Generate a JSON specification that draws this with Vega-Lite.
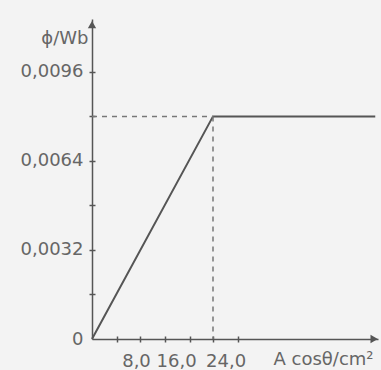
{
  "$schema": "https://vega.github.io/schema/vega-lite/v6.json",
  "autosize": {"type": "none"},
  "padding": {"left": 92, "top": 19, "right": 3, "bottom": 31},
  "width": 286,
  "height": 320,
  "background": "#f3f3f3",
  "config": {
    "view": {"stroke": null},
    "axis": {"labelFont": "DejaVu Sans", "titleFont": "DejaVu Sans", "labelColor": "#666666", "titleColor": "#666666", "labelFontSize": 18, "titleFontSize": 18, "titleFontWeight": "normal", "domainColor": "#555555", "tickColor": "#555555", "grid": false}
  },
  "datasets": {
    "curve": [
      {"area": 0, "flux": 0},
      {"area": 22, "flux": 0.008},
      {"area": 51.5, "flux": 0.008}
    ],
    "knee": [
      {"area": 22, "flux": 0.008, "base": 0}
    ],
    "arrows": [
      {"area": 0, "flux": 0.0113, "dir": "up"},
      {"area": 51.3, "flux": 0, "dir": "right"}
    ]
  },
  "layer": [
    {
      "data": {"name": "curve"},
      "mark": {"type": "line", "color": "#555555", "strokeWidth": 2},
      "encoding": {
        "x": {"field": "area", "type": "quantitative", "scale": {"domain": [0, 52], "nice": false, "zero": false},
          "axis": {"orient": "bottom", "values": [8, 15.3, 24.3], "ticks": false, "tickSize": 0, "labelPadding": 13, "domainWidth": 1.5,
            "labelExpr": "datum.value < 10 ? '8,0' : datum.value < 20 ? '16,0' : '24,0'",
            "title": "A cosθ/cm²", "titleX": 231, "titleY": 20, "titleAlign": "center", "titleBaseline": "middle"}},
        "y": {"field": "flux", "type": "quantitative", "scale": {"domain": [0, 0.0115], "nice": false, "zero": false},
          "axis": {"orient": "left", "values": [0, 0.0032, 0.0064, 0.0096], "ticks": false, "tickSize": 0, "labelPadding": 9, "domainWidth": 1.5,
            "labelExpr": "datum.value == 0 ? '0' : replace(format(datum.value, '.4f'), '.', ',')",
            "title": "ϕ/Wb", "titleAngle": 0, "titleX": -4, "titleY": 19, "titleAlign": "right", "titleBaseline": "middle"}}
      }
    },
    {
      "data": {"name": "knee"},
      "mark": {"type": "rule", "strokeDash": [5, 5], "color": "#777777", "strokeWidth": 1.5},
      "encoding": {
        "x": {"field": "area", "type": "quantitative",
          "axis": {"orient": "bottom", "values": [4.5, 8.7, 13.2, 17.8, 22, 26.5], "offset": -3, "tickSize": 6, "tickWidth": 1.5, "domain": false, "labels": false, "title": null}},
        "y": {"field": "flux", "type": "quantitative",
          "axis": {"orient": "left", "values": [0.0016, 0.0032, 0.0048, 0.0064, 0.008, 0.0096], "offset": -3, "tickSize": 6, "tickWidth": 1.5, "domain": false, "labels": false, "title": null}},
        "y2": {"field": "base"}
      }
    },
    {
      "data": {"name": "knee"},
      "mark": {"type": "rule", "strokeDash": [5, 5], "color": "#777777", "strokeWidth": 1.5},
      "encoding": {
        "x": {"field": "base", "type": "quantitative", "axis": null},
        "x2": {"field": "area"},
        "y": {"field": "flux", "type": "quantitative", "axis": null}
      }
    },
    {
      "data": {"name": "arrows"},
      "mark": {"type": "point", "filled": true, "size": 70, "color": "#555555", "opacity": 1},
      "encoding": {
        "x": {"field": "area", "type": "quantitative", "axis": null},
        "y": {"field": "flux", "type": "quantitative", "axis": null},
        "shape": {"field": "dir", "type": "nominal", "scale": {"domain": ["up", "right"], "range": ["triangle-up", "triangle-right"]}, "legend": null}
      }
    }
  ],
  "resolve": {"axis": {"x": "independent", "y": "independent"}}
}
